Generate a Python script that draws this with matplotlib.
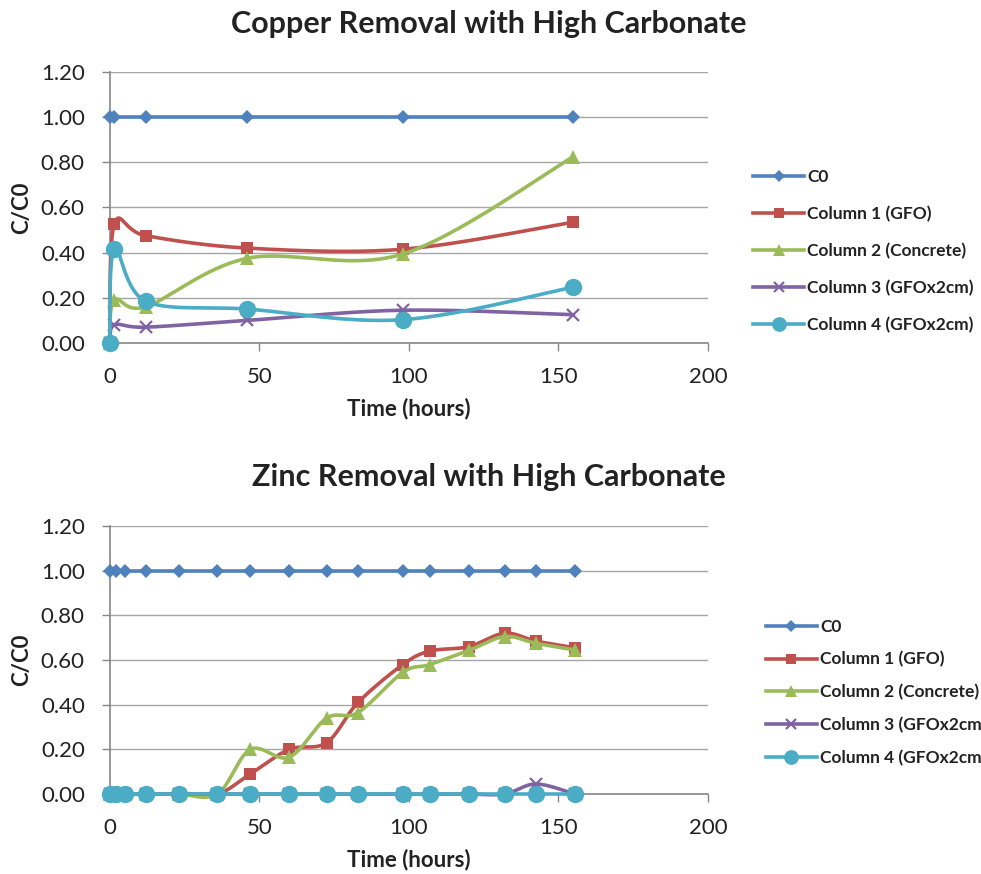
import numpy as np
import matplotlib
matplotlib.use("Agg")
import matplotlib.pyplot as plt
from matplotlib.lines import Line2D

plt.rcParams['font.family'] = ['Lato', 'DejaVu Sans']

# ---------------- data ----------------
series_names = ["C0", "Column 1 (GFO)", "Column 2 (Concrete)",
                "Column 3 (GFOx2cm)", "Column 4 (GFOx2cm)"]

cu_time = [0, 1.5, 12, 46, 98, 155]
cu_c0 = [1.0, 1.0, 1.0, 1.0, 1.0, 1.0]
cu_col1 = [0.0, 0.525, 0.475, 0.42, 0.415, 0.535]
cu_col2 = [0.0, 0.19, 0.16, 0.375, 0.394, 0.825]
cu_col3 = [0.0, 0.08, 0.07, 0.10, 0.145, 0.125]
cu_col4 = [0.0, 0.415, 0.185, 0.15, 0.103, 0.247]

zn_time = [0, 2, 5, 12, 23, 36, 47, 60, 72.5, 83, 98, 107, 120, 132, 142.5, 155.5]
zn_c0 = [1.0] * 16
zn_col1 = [0, 0, 0, 0, 0, 0, 0.09, 0.20, 0.23, 0.41, 0.58, 0.64, 0.66, 0.72, 0.685, 0.655]
zn_col2 = [0, 0, 0, 0, 0, 0, 0.20, 0.165, 0.34, 0.365, 0.545, 0.58, 0.643, 0.705, 0.675, 0.645]
zn_col3 = [0, 0, 0, 0, 0, 0, 0, 0, 0, 0, 0, 0, 0, 0, 0.045, 0]
zn_col4 = [0] * 16

titles = ["Copper Removal with High Carbonate", "Zinc Removal with High Carbonate"]
x_ticks = [0, 50, 100, 150, 200]
y_ticks = [0.0, 0.2, 0.4, 0.6, 0.8, 1.0, 1.2]

# ---------------- style ----------------
colors = ["#4F81BD", "#C0504D", "#9BBB59", "#8064A2", "#4BACC6"]
markers = ["D", "s", "^", "x", "o"]
msizes = [7.5, 9, 9.5, 8, 12.5]


def smooth(ax, xs, ys, n=30):
    """Excel-like smoothed line (Catmull-Rom Bezier in display space)."""
    pts = ax.transData.transform(np.column_stack([xs, ys]))
    P = np.vstack([pts[0], pts, pts[-1]])
    out = []
    for i in range(1, len(P) - 2):
        p0, p1, p2, p3 = P[i - 1], P[i], P[i + 1], P[i + 2]
        c1 = p1 + (p2 - p0) / 6.0
        c2 = p2 - (p3 - p1) / 6.0
        t = np.linspace(0, 1, n)[:, None]
        seg = ((1 - t) ** 3) * p1 + 3 * ((1 - t) ** 2) * t * c1 + 3 * (1 - t) * t ** 2 * c2 + t ** 3 * p2
        out.append(seg if i == 1 else seg[1:])
    out = np.vstack(out)
    return ax.transData.inverted().transform(out)


fig = plt.figure(figsize=(9.81, 8.74), dpi=100)

axes_rects = [[0.1119, 0.6076, 0.6098, 0.3101], [0.1119, 0.0915, 0.6098, 0.3066]]
datasets = [(cu_time, [cu_c0, cu_col1, cu_col2, cu_col3, cu_col4]),
            (zn_time, [zn_c0, zn_col1, zn_col2, zn_col3, zn_col4])]
legend_anchor = [(0.768, 0.807), (0.781, 0.292)]
legend_spacing = [1.2, 0.95]
title_y = [0.973, 0.454]

for k in range(2):
    ax = fig.add_axes(axes_rects[k])
    ax.set_xlim(0, 200)
    ax.set_ylim(0, 1.2)
    tx, sers = datasets[k]
    handles = []
    for j, ys in enumerate(sers):
        xy = smooth(ax, tx, ys)
        ax.plot(xy[:, 0], xy[:, 1], color=colors[j], lw=2.6, clip_on=False,
                zorder=3 + j * 0.1, solid_capstyle='round')
        mew = 1.6 if markers[j] == 'x' else 0
        ax.plot(tx, ys, linestyle='none', marker=markers[j], ms=msizes[j],
                color=colors[j], mec=colors[j], mew=mew, clip_on=False, zorder=3.05 + j * 0.1)
        handles.append(Line2D([], [], color=colors[j], lw=2.6, marker=markers[j],
                              ms=msizes[j] * 0.85, mew=mew, mec=colors[j]))
    ax.set_xticks(x_ticks)
    ax.set_yticks(y_ticks)
    ax.set_yticklabels([f"{v:.2f}" for v in y_ticks])
    ax.grid(axis='y', color='#A6A6A6', lw=1.0)
    ax.set_axisbelow(True)
    for s in ['top', 'right']:
        ax.spines[s].set_visible(False)
    for s in ['left', 'bottom']:
        ax.spines[s].set_color('#868686')
        ax.spines[s].set_linewidth(1.2)
    ax.tick_params(axis='both', colors='#868686', labelcolor='#222222', labelsize=16,
                   length=6, width=1.0)
    ax.tick_params(axis='x', pad=11)
    ax.tick_params(axis='y', pad=12)
    ax.set_xlabel("Time (hours)", fontsize=16, fontweight='bold', color='#222222', labelpad=8)
    ax.set_ylabel("C/C0", fontsize=16, fontweight='bold', color='#222222', labelpad=6)
    fig.text(0.498, title_y[k], titles[k], ha='center', va='center', fontsize=22,
             fontweight='bold', color='#222222')
    leg = ax.legend(handles, series_names, loc='upper left',
                    bbox_to_anchor=legend_anchor[k], bbox_transform=fig.transFigure,
                    frameon=False, handlelength=2.9, handletextpad=0.2,
                    labelspacing=legend_spacing[k], borderaxespad=0, borderpad=0,
                    prop={'size': 12.5, 'weight': 'bold'})
    for t in leg.get_texts():
        t.set_color('#222222')

fig.savefig("out.png", dpi=100)
